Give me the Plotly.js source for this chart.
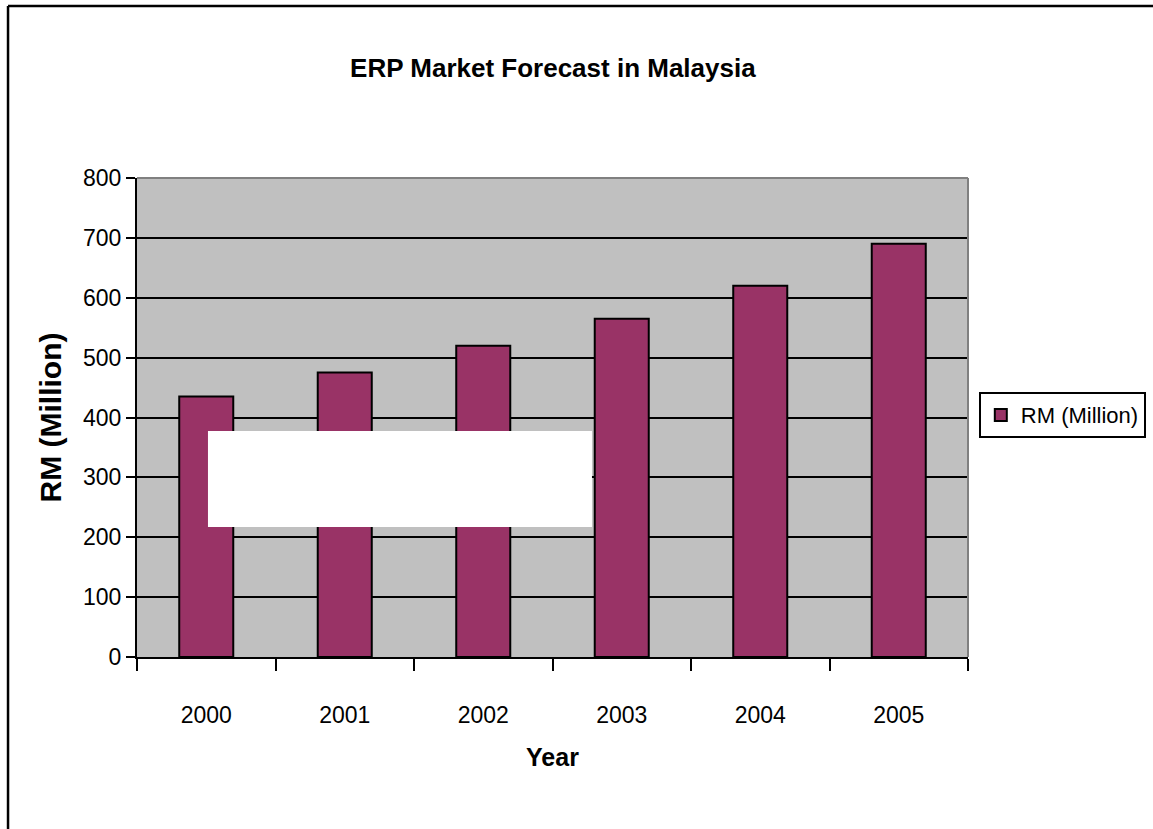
<!DOCTYPE html>
<html>
<head>
<meta charset="utf-8">
<script src="https://cdn.plot.ly/plotly-3.0.1.min.js"></script>
<style>html,body{margin:0;padding:0;background:#fff;}#chart{width:1153px;height:829px;}</style>
</head>
<body>
<div id="chart"></div>
<script>
var years = ["2000", "2001", "2002", "2003", "2004", "2005"];
var rmMillion = [435, 475, 520, 565, 620, 690];
var yTicks = [0, 100, 200, 300, 400, 500, 600, 700, 800];
var seriesName = "RM (Million)";

var reg = "Liberation Sans, Arial, sans-serif";

var trace = {
  type: "bar",
  x: years,
  y: rmMillion,
  name: seriesName,
  width: 0.39,
  marker: {color: "#993366", line: {color: "#000000", width: 2}},
  showlegend: true,
  hoverinfo: "x+y"
};

var layout = {
  width: 1153, height: 829,
  margin: {l: 137, r: 185, t: 178, b: 172, autoexpand: false},
  paper_bgcolor: "#ffffff",
  plot_bgcolor: "#C0C0C0",
  title: {text: "<b>ERP Market Forecast in Malaysia</b>", font: {family: reg, size: 26, color: "#000"},
          x: 0.4795, xanchor: "center", y: 0.918, yanchor: "middle"},
  showlegend: true,
  legend: {x: 1.013, xanchor: "left", y: 0.505, yanchor: "middle",
           bordercolor: "#000", borderwidth: 2, bgcolor: "#fff",
           font: {family: reg, size: 22, color: "#000"}, itemwidth: 30},
  xaxis: {
    type: "category",
    tickson: "boundaries",
    ticks: "outside", ticklen: 12, tickwidth: 2, tickcolor: "#000",
    showline: true, linecolor: "#000", linewidth: 2,
    showgrid: false,
    tickfont: {family: reg, size: 23, color: "#000"},
    ticklabelstandoff: 36,
    title: {text: "<b>Year</b>", font: {family: reg, size: 25, color: "#000"}, standoff: 22}
  },
  yaxis: {
    range: [0, 800],
    tickvals: yTicks,
    ticks: "outside", ticklen: 9, tickwidth: 2, tickcolor: "#000",
    showline: true, linecolor: "#000", linewidth: 2,
    showgrid: true, gridcolor: "#000", gridwidth: 2,
    zeroline: false,
    tickfont: {family: reg, size: 23, color: "#000"},
    title: {text: "<b>RM (Million)</b>", font: {family: reg, size: 30, color: "#000"}, standoff: 13}
  },
  shapes: [
    {type: "line", xref: "paper", yref: "paper", x0: 0, x1: 1, y0: 1, y1: 1, line: {color: "#808080", width: 2}},
    {type: "line", xref: "paper", yref: "paper", x0: 1, x1: 1, y0: 0, y1: 1, line: {color: "#808080", width: 2}},
    {type: "rect", xref: "paper", yref: "paper", x0: 0.0854, x1: 0.5475, y0: 0.2714, y1: 0.4718,
     fillcolor: "#ffffff", line: {width: 0}, layer: "above"},
    {type: "line", xref: "paper", yref: "paper", x0: -0.1552, x1: -0.1552, y0: -0.5, y1: 1.359, line: {color: "#000", width: 2.5}},
    {type: "line", xref: "paper", yref: "paper", x0: -0.1552, x1: 1.5, y0: 1.359, y1: 1.359, line: {color: "#000", width: 2.5}}
  ]
};

Plotly.newPlot("chart", [trace], layout, {displayModeBar: false, staticPlot: true});
</script>
</body>
</html>
